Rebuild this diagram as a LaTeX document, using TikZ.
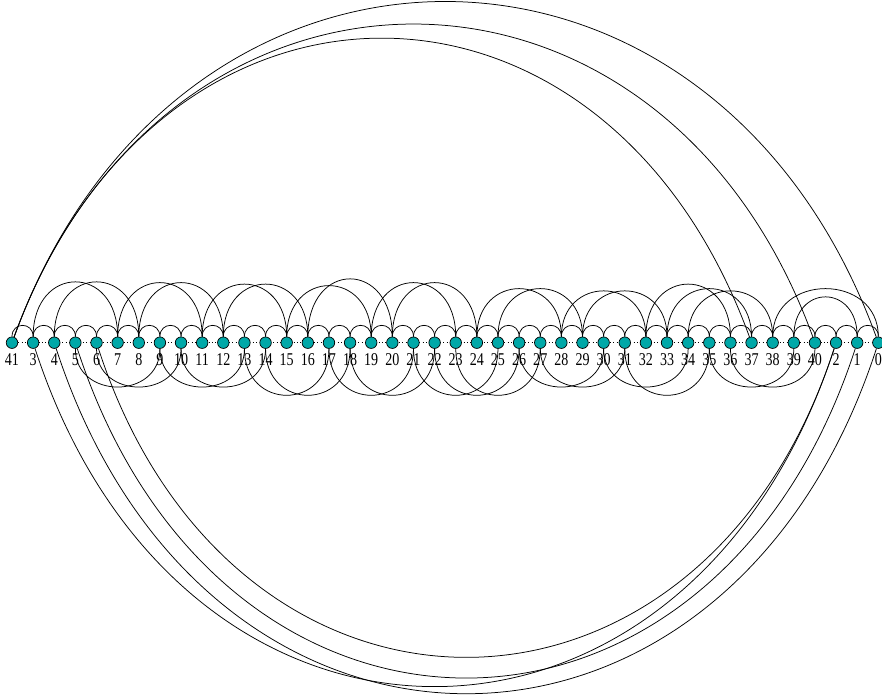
\documentclass[tikz,border=0pt]{standalone}
\usepackage{fontspec}
\setmainfont{Liberation Serif}
\newfontfamily\lblfont[FakeStretch=0.78]{Liberation Serif}
\usetikzlibrary{backgrounds}
\definecolor{vertexfill}{RGB}{0,168,168}
\begin{document}
\begin{tikzpicture}[x=1pt, y=1pt,
  vert/.style={circle, draw, line width=0.7pt, fill=vertexfill, minimum size=11.5pt, inner sep=0pt,
    path picture={\fill (path picture bounding box.center) circle (0.8pt);},
    label={[font=\fontsize{18}{18}\lblfont, inner sep=0pt, label distance=5pt]below:#1}},
  spine/.style={line width=0.8pt, dash pattern=on 0.8pt off 2.6pt},
  link/.style={line width=0.75pt},
  hop/.style={out=90, in=90, distance=15pt},
  arcup/.style={out=90, in=90, distance=#1},
  arcdown/.style={out=-90, in=-90, distance=#1}]
\useasboundingbox (0,-352.3) rectangle (882,342.7);
\foreach \n [count=\i from 0] in {41,3,4,...,40,2,1,0}
  \node[vert=\n] (v\n) at (12+21.13*\i,0) {};
\begin{scope}[on background layer]
  \draw[spine] (v41) -- (v0);
\end{scope}
\foreach \a in {3,...,39} {
  \pgfmathtruncatemacro\b{\a+1}
  \draw[link] (v\a) to[hop] (v\b);
}
\foreach \a/\b in {41/3, 40/2, 2/1, 1/0}
  \draw[link] (v\a) to[hop] (v\b);
\foreach \a/\b/\d in {3/7/73, 4/8/73, 7/11/72, 8/12/72, 11/15/70, 12/16/70, 15/19/68, 16/20/77,
                      19/23/72, 20/24/72, 24/28/64, 25/29/64, 28/32/61, 29/33/61, 32/36/70, 33/37/64,
                      34/38/61, 38/0/64, 39/1/53}
  \draw[link] (v\a) to[arcup=\d pt] (v\b);
\foreach \a/\b/\d in {5/9/51, 6/10/51, 9/13/51, 10/14/51, 13/17/62, 14/18/62, 17/21/62, 18/22/62,
                      21/25/62, 22/26/62, 23/27/62, 26/30/51, 27/31/51, 30/34/51, 31/35/62,
                      35/39/51, 36/40/51}
  \draw[link] (v\a) to[arcdown=\d pt] (v\b);
\foreach \b/\d in {37/424, 40/444, 0/476}
  \draw[link] (v41) to[out=70, in=110, distance=\d pt] (v\b);
\foreach \a/\b/\d in {6/2/433, 5/1/462, 3/2/474, 4/0/484}
  \draw[link] (v\a) to[out=-72, in=-108, distance=\d pt] (v\b);
\end{tikzpicture}
\end{document}
